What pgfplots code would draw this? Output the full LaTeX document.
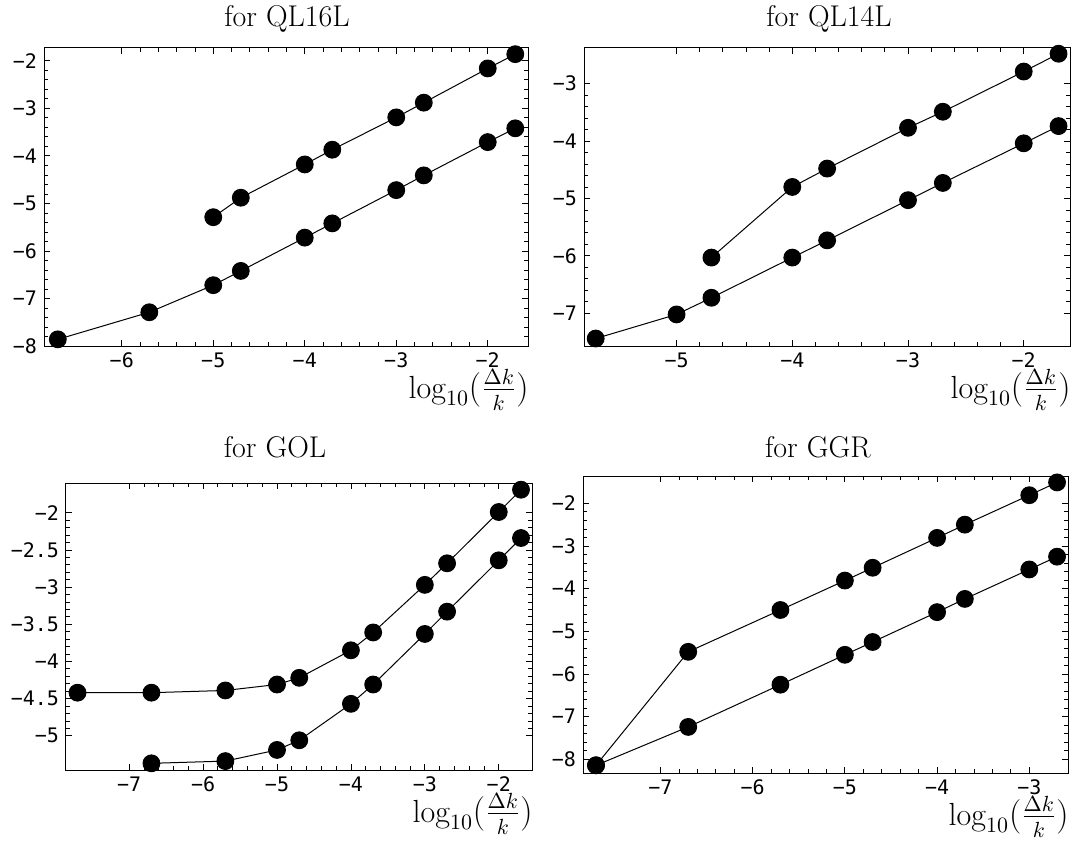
\documentclass[border=0pt]{standalone}
\usepackage{fontspec}
\usepackage{pgfplots}
\pgfplotsset{compat=1.18}
\newfontfamily\tickfont{DejaVu Sans Mono}

\pgfplotsset{
  panel/.style={
    scale only axis,
    axis line style={line width=0.5pt, black},
    tick style={line width=0.4pt, black},
    major tick length=3.2pt, minor tick length=2pt,
    minor tick num=4,
    tick label style={font=\tickfont\fontsize{10}{11}\selectfont},
    xticklabel style={inner sep=1pt, yshift=-2.3pt},
    xlabel={$\log_{10}(\frac{\Delta k}{k})$},
    xlabel style={at={(rel axis cs:1,0)}, anchor=north east, inner sep=0pt,
      yshift=-11.5pt, xshift=0.5pt, font=\fontsize{16}{19}\selectfont},
    clip=false,
  },
  blk/.style={black, line width=0.5pt, mark=*, mark size=4.2pt,
    mark options={solid, fill=black}},
}
\newcommand{\ttl}{\fontsize{15}{18}\selectfont}

\begin{document}
\begin{tikzpicture}
% top left
\begin{axis}[panel, at={(22pt,248.5pt)}, anchor=south west,
  width=242pt, height=149pt,
  xmin=-6.85, xmax=-1.56, ymin=-8.0, ymax=-1.73,
  xtick={-6,-5,-4,-3,-2}, xticklabels={−6,−5,−4,−3,−2},
  ytick={-8,-7,-6,-5,-4,-3,-2}, yticklabels={−8,−7,−6,−5,−4,−3,−2}]
\addplot[blk] coordinates {(-5,-5.29) (-4.699,-4.88) (-4,-4.18) (-3.699,-3.87) (-3,-3.19) (-2.699,-2.88) (-2,-2.16) (-1.699,-1.86)};
\addplot[blk] coordinates {(-6.699,-7.86) (-5.699,-7.29) (-5,-6.72) (-4.699,-6.42) (-4,-5.72) (-3.699,-5.42) (-3,-4.72) (-2.699,-4.41) (-2,-3.71) (-1.699,-3.42)};
\end{axis}
% top right
\begin{axis}[panel, at={(292pt,248.5pt)}, anchor=south west,
  width=243pt, height=149pt,
  xmin=-5.80, xmax=-1.60, ymin=-7.57, ymax=-2.38,
  xtick={-5,-4,-3,-2}, xticklabels={−5,−4,−3,−2},
  ytick={-7,-6,-5,-4,-3}, yticklabels={−7,−6,−5,−4,−3}]
\addplot[blk] coordinates {(-4.699,-6.03) (-4,-4.80) (-3.699,-4.48) (-3,-3.77) (-2.699,-3.49) (-2,-2.79) (-1.699,-2.48)};
\addplot[blk] coordinates {(-5.699,-7.44) (-5,-7.02) (-4.699,-6.73) (-4,-6.03) (-3.699,-5.73) (-3,-5.03) (-2.699,-4.73) (-2,-4.04) (-1.699,-3.74)};
\end{axis}
% bottom left
\begin{axis}[panel, at={(33pt,36.5pt)}, anchor=south west,
  width=233pt, height=143.5pt,
  xmin=-7.855, xmax=-1.55, ymin=-5.46, ymax=-1.60,
  xtick={-7,-6,-5,-4,-3,-2}, xticklabels={−7,−6,−5,−4,−3,−2},
  ytick={-5,-4.5,-4,-3.5,-3,-2.5,-2}, yticklabels={−5,−4.5,−4,−3.5,−3,−2.5,−2}]
\addplot[blk] coordinates {(-7.699,-4.42) (-6.699,-4.42) (-5.699,-4.39) (-5,-4.31) (-4.699,-4.22) (-4,-3.85) (-3.699,-3.61) (-3,-2.97) (-2.699,-2.68) (-2,-1.99) (-1.699,-1.69)};
\addplot[blk] coordinates {(-6.699,-5.37) (-5.699,-5.34) (-5,-5.19) (-4.699,-5.06) (-4,-4.57) (-3.699,-4.31) (-3,-3.63) (-2.699,-3.33) (-2,-2.64) (-1.699,-2.34)};
\end{axis}
% bottom right
\begin{axis}[panel, at={(291.5pt,35pt)}, anchor=south west,
  width=242.5pt, height=148.5pt,
  xmin=-7.84, xmax=-2.58, ymin=-8.32, ymax=-1.36,
  xtick={-7,-6,-5,-4,-3}, xticklabels={−7,−6,−5,−4,−3},
  ytick={-8,-7,-6,-5,-4,-3,-2}, yticklabels={−8,−7,−6,−5,−4,−3,−2}]
\addplot[blk] coordinates {(-7.699,-8.14) (-6.699,-5.48) (-5.699,-4.50) (-5,-3.81) (-4.699,-3.51) (-4,-2.81) (-3.699,-2.50) (-3,-1.81) (-2.699,-1.51)};
\addplot[blk] coordinates {(-7.699,-8.14) (-6.699,-7.24) (-5.699,-6.25) (-5,-5.55) (-4.699,-5.25) (-4,-4.55) (-3.699,-4.24) (-3,-3.55) (-2.699,-3.25)};
\end{axis}
% titles
\node[font=\ttl, anchor=base] at (143.5pt,408pt) {for QL16L};
\node[font=\ttl, anchor=base] at (414.5pt,408pt) {for QL14L};
\node[font=\ttl, anchor=base] at (137.5pt,193pt) {for GOL};
\node[font=\ttl, anchor=base] at (409pt,193pt) {for GGR};
\pgfresetboundingbox
\useasboundingbox (0,0) rectangle (537pt,421.5pt);
\end{tikzpicture}
\end{document}
